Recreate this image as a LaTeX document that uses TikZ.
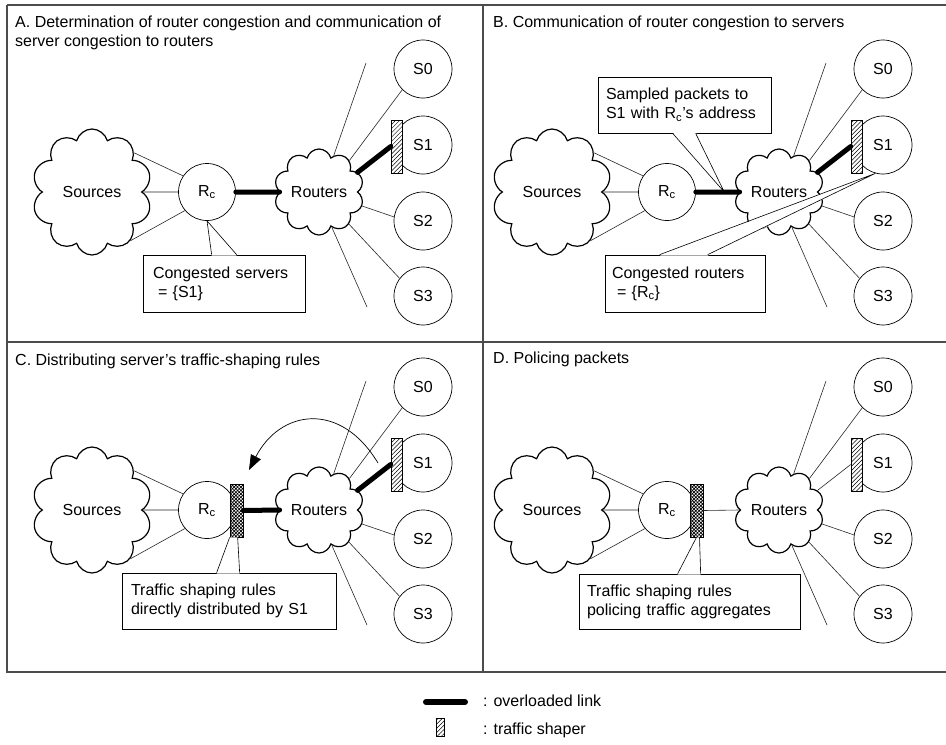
\documentclass[tikz,border=0pt]{standalone}
\usepackage{fontspec}
\setmainfont{Liberation Sans}
\usetikzlibrary{shapes.symbols,patterns.meta,arrows.meta,calc}

\tikzset{
  lbl/.style={font=\fontsize{16}{19}\selectfont},
  frameline/.style={draw=black!70, line width=1.2pt},
  thin link/.style={draw=black!85, line width=0.6pt},
  heavy link/.style={line width=5pt, line cap=round},
  cloudbase/.style={cloud, cloud puffs=10, cloud puff arc=150, cloud ignores aspect,
    draw, line width=1.2pt, inner sep=0pt, lbl},
  srcloud/.style={cloudbase, minimum width=120pt, minimum height=126pt},
  rtcloud/.style={cloudbase, minimum width=90pt, minimum height=86pt},
  hub/.style={circle, draw, line width=0.7pt, minimum size=57pt, inner sep=0pt, lbl},
  srv/.style={circle, draw, line width=0.7pt, minimum size=58pt, inner sep=0pt, lbl},
  shaper/.style={rectangle, draw, line width=0.6pt, minimum width=11pt,
    minimum height=53pt, inner sep=0pt, preaction={fill=white},
    pattern={Lines[angle=45,distance=3pt,line width=0.5pt]}},
  ruleshaper/.style={rectangle, draw, line width=0.6pt, minimum width=13pt,
    minimum height=53pt, inner sep=0pt, preaction={fill=white},
    pattern={Hatch[angle=45,distance=2.4pt,line width=0.7pt]}},
  note/.style={rectangle, draw, line width=0.7pt, fill=white, lbl, align=left,
    inner ysep=0pt},
  wedge/.style={draw=black, line width=0.6pt},
  netw/.pic={
    % sources, congested router, router cloud and the four servers
    \node[srcloud] (-src) at (-115,0) {Sources};
    \node[hub] (-rc) at (0,0) {R\textsubscript{c}};
    \node[rtcloud] (-rt) at (112,0) {Routers};
    \node[srv] (-s0) at (216,-123) {S0};
    \node[srv] (-s1) at (216,-47) {S1};
    \node[srv] (-s2) at (216,29) {S2};
    \node[srv] (-s3) at (216,104) {S3};
    \node[shaper] (-sh) at (189.5,-45.5) {};
    \coordinate (-up) at (159,-129);
    \coordinate (-dn) at (160,115);
    \draw[thin link] (-src.43) -- (-rc.146);
    \draw[thin link] (-src.0) -- (-rc.180);
    \draw[thin link] (-src.308) -- (-rc.220);
    \draw[thin link] (-rt.68) -- (-up);
    \draw[thin link] (-rt.46) -- (-s0.225);
    \draw[thin link] (-rt.342) -- (-s2.172);
    \draw[thin link] (-rt.313) -- (-s3.143);
    \draw[thin link] (-rt.290) -- (-dn);
  }
}

\begin{document}
\begin{tikzpicture}[x=1pt,y=-1pt]
\useasboundingbox (0,0) rectangle (946,745);

% outer frame and the lines between the four panels
\draw[frameline] (7,5) -- (946,5);
\draw[frameline] (7,5) -- (7,672) -- (946,672);
\draw[frameline] (483,5) -- (483,672);
\draw[frameline] (7,342) -- (946,342);

% ---------- A ----------
\node[lbl, anchor=north west, align=left, inner sep=0pt] (ttlA) at (15,15.3)
  {A. Determination of router congestion and communication of\\server congestion to routers};
\pic (A) at (207,192) {netw};
\draw[heavy link] (A-rc) -- (A-rt);
\draw[heavy link] (A-rt.27) -- (A-sh.west);
\node[note, minimum width=162pt, minimum height=57pt, text width=142pt, inner xsep=10pt]
  (A-note) at (224,283.5) {Congested servers\\\hspace*{5pt}= \{S1\}};
\fill[white] ($(A-note.north west)+(69,1)$) -- (A-rc.south) -- ($(A-note.north west)+(94,1)$) -- cycle;
\draw[wedge] ($(A-note.north west)+(69,0)$) -- (A-rc.south) -- ($(A-note.north west)+(94,0)$);

% ---------- B ----------
\node[lbl, anchor=base west, inner sep=0pt] (ttlB) at (493,27)
  {B. Communication of router congestion to servers};
\pic (B) at (667,192) {netw};
\coordinate (B-tip) at ($(B-rc.east)!0.65!(B-rt.west)$);
\node[note, minimum width=173pt, minimum height=56pt, text width=157pt, inner xsep=8pt]
  (B-note1) at (684.5,105) {Sampled packets to\\S1 with R\textsubscript{c}'s address};
\fill[white] ($(B-note1.south west)+(75,-1)$) -- (B-tip) -- ($(B-note1.south west)+(98,-1)$) -- cycle;
\draw[wedge] ($(B-note1.south west)+(75,0)$) -- (B-tip) -- ($(B-note1.south west)+(98,0)$);
\draw[heavy link] (B-rc) -- (B-rt);
\draw[heavy link] (B-rt.27) -- (B-sh.west);
\node[note, minimum width=160pt, minimum height=57pt, text width=146pt, inner xsep=7pt]
  (B-note2) at (685,283.5) {Congested routers\\\hspace*{5pt}= \{R\textsubscript{c}\}};
\fill[white] ($(B-note2.north west)+(55,1)$) -- (B-s1.255) -- ($(B-note2.north west)+(103,1)$) -- cycle;
\draw[wedge] ($(B-note2.north west)+(55,0)$) -- (B-s1.255) -- ($(B-note2.north west)+(103,0)$);

% ---------- C ----------
\node[lbl, anchor=base west, inner sep=0pt] (ttlC) at (15,365)
  {C. Distributing server's traffic-shaping rules};
\pic (C) at (207,510) {netw};
\node[ruleshaper] (C-rs) at (236.5,510.5) {};
\draw[heavy link] (C-rs.east) -- (C-rt.west);
\draw[heavy link] (C-rt.27) -- (C-sh.west);
\coordinate (C-from) at (378,463);
\coordinate (C-to) at (249,470);
\draw[line width=0.7pt, -{Triangle[length=15pt,width=11pt]}]
  (C-from) .. controls +(-38,-63) and +(31,-60) .. (C-to);
\node[note, minimum width=214pt, minimum height=56pt, text width=196pt, inner xsep=9pt]
  (C-note) at (229,601) {Traffic shaping rules\\directly distributed by S1};
\fill[white] ($(C-note.north west)+(95,1)$) -- (C-rs.south west) -- ($(C-rs.south west)+(8,0)$)
  -- ($(C-note.north west)+(118,1)$) -- cycle;
\draw[wedge] ($(C-note.north west)+(95,0)$) -- (C-rs.south west);
\draw[wedge] ($(C-note.north west)+(118,0)$) -- ($(C-rs.south west)+(8,0)$);

% ---------- D ----------
\node[lbl, anchor=base west, inner sep=0pt] (ttlD) at (493,363) {D. Policing packets};
\pic (D) at (667,510) {netw};
\node[ruleshaper] (D-rs) at (696.5,510.5) {};
\draw[thin link] (D-rs.east) -- (D-rt.west);
\draw[thin link] (D-rt.27) -- (D-sh.west);
\node[note, minimum width=221pt, minimum height=55pt, text width=205pt, inner xsep=8pt]
  (D-note) at (689.5,601.5) {Traffic shaping rules\\policing traffic aggregates};
\fill[white] ($(D-note.north west)+(99,1)$) -- (D-rs.south) -- ($(D-rs.south)+(3,0)$)
  -- ($(D-note.north west)+(122,1)$) -- cycle;
\draw[wedge] ($(D-note.north west)+(99,0)$) -- (D-rs.south);
\draw[wedge] ($(D-note.north west)+(122,0)$) -- ($(D-rs.south)+(3,0)$);

% ---------- legend ----------
\coordinate (lgA) at (426,702);
\coordinate (lgB) at (465,702);
\draw[heavy link, line width=6pt] (lgA) -- (lgB);
\node[lbl, anchor=base west, inner sep=0pt] (lgt1) at (483,706) {: overloaded link};
\node[shaper, minimum width=8pt, minimum height=18pt] (lgsh) at (440.5,727) {};
\node[lbl, anchor=base west, inner sep=0pt] (lgt2) at (483,734) {: traffic shaper};
\end{tikzpicture}
\end{document}
